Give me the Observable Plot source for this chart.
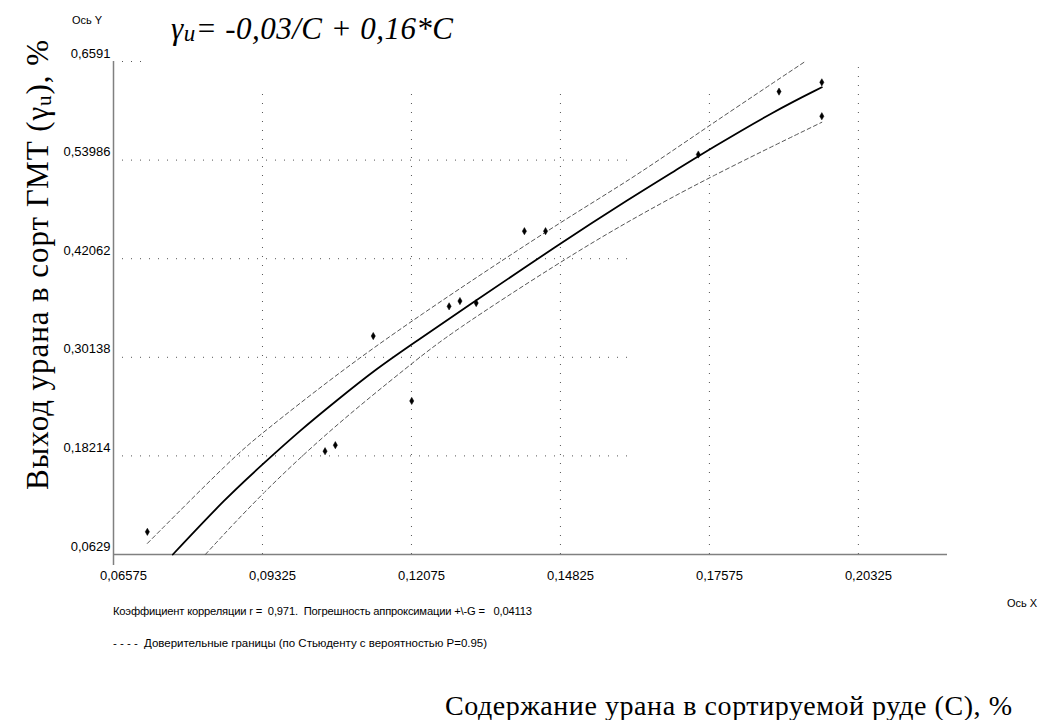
<!DOCTYPE html>
<html><head><meta charset="utf-8">
<script src="https://cdn.jsdelivr.net/npm/d3@7"></script>
<script src="https://cdn.jsdelivr.net/npm/@observablehq/plot@0.6"></script>
<style>body{margin:0;background:#fff} svg{display:block}</style>
</head><body><div id="chart"></div>
<script>
// Tick values
const xTicks = [0.06575, 0.09325, 0.12075, 0.14825, 0.17575, 0.20325];
const yTicks = [0.0629, 0.18214, 0.30138, 0.42062, 0.53986, 0.6591];

// Observed points
const pointC = [0.0720, 0.1048, 0.1067, 0.1137, 0.1208, 0.1277, 0.1297, 0.1327, 0.1416, 0.1455, 0.1737, 0.1886, 0.1965, 0.1965];
const pointY = [0.0903, 0.1878, 0.1951, 0.3271, 0.2486, 0.3630, 0.3694, 0.3670, 0.4539, 0.4539, 0.5466, 0.6227, 0.6339, 0.5929];

// Fitted curve
const fitC = [0.0767, 0.0867, 0.0931, 0.1002, 0.1070, 0.1143, 0.1217, 0.1297, 0.1481, 0.1610, 0.1699, 0.1758, 0.1880, 0.1965];
const fitY = [0.0629, 0.1326, 0.1709, 0.2130, 0.2494, 0.2877, 0.3210, 0.3570, 0.4387, 0.4931, 0.5290, 0.5530, 0.6000, 0.6279];

// Confidence bounds
const upperC = [0.0720, 0.0879, 0.0931, 0.1063, 0.1208, 0.1481, 0.1610, 0.1757, 0.1932];
const upperY = [0.0763, 0.1809, 0.2092, 0.2776, 0.3461, 0.4648, 0.5152, 0.5817, 0.6581];
const lowerC = [0.0827, 0.0931, 0.1063, 0.1208, 0.1278, 0.1481, 0.1610, 0.1757, 0.1965];
const lowerY = [0.0629, 0.1367, 0.2172, 0.2938, 0.3300, 0.4165, 0.4669, 0.5192, 0.5856];

// Grid extents (as drawn in the original)
const hGrid = [0.18214, 0.30138, 0.42062, 0.53986, 0.6591];
const hGridEnd = [0.1619, 0.1619, 0.1619, 0.1619, 0.0722];
const vGrid = [0.09325, 0.12075, 0.14825, 0.17575, 0.20325];
const vGridTop = [0.6203, 0.6203, 0.6203, 0.6203, 0.6591];

const fmt = d => String(d).replace(".", ",");
const zip = (a, b) => a.map((v, i) => ({c: v, y: b[i]}));

const chart = Plot.plot({
  width: 1038, height: 720,
  marginLeft: 113, marginRight: 91, marginTop: 61, marginBottom: 166,
  style: {fontFamily: "'Liberation Sans', Arial, sans-serif", fontSize: "13px", background: "#fff", color: "#000"},
  x: {domain: [0.06575, 0.2197]},
  y: {domain: [0.0629, 0.6591]},
  marks: [
    Plot.ruleY(hGrid, {y: d => d, x1: 0.06575, x2: (d, i) => hGridEnd[i], stroke: "#555", strokeDasharray: "1,8"}),
    Plot.ruleX(vGrid, {x: d => d, y1: 0.0629, y2: (d, i) => vGridTop[i], stroke: "#555", strokeDasharray: "1,8"}),
    Plot.ruleY([0.0629], {x1: 0.06575, x2: 0.2197, stroke: "#808080", strokeWidth: 1.5}),
    Plot.ruleX([0.06575], {y1: 0.6591, y2: 0.0495, stroke: "#808080", strokeWidth: 1.5, clip: false}),
    Plot.axisX(xTicks, {tickSize: 0, tickPadding: 16, dx: 10, tickFormat: fmt, label: null, fontSize: 13}),
    Plot.axisY(yTicks, {tickSize: 0, tickPadding: 3, dy: -8, tickFormat: fmt, label: null, fontSize: 13}),
    Plot.line(zip(upperC, upperY), {x: "c", y: "y", stroke: "#555", strokeWidth: 1, strokeDasharray: "4,3", curve: "basis"}),
    Plot.line(zip(lowerC, lowerY), {x: "c", y: "y", stroke: "#555", strokeWidth: 1, strokeDasharray: "4,3", curve: "basis"}),
    Plot.line(zip(fitC, fitY), {x: "c", y: "y", stroke: "#000", strokeWidth: 1.8, curve: "basis"}),
    Plot.dot(zip(pointC, pointY), {x: "c", y: "y", symbol: "diamond", r: 2.2, fill: "#000", stroke: "#000", strokeWidth: 0.5})
  ]
});
document.getElementById("chart").appendChild(chart);

const svg = d3.select(chart);
const sans = "'Liberation Sans', Arial, sans-serif";
const serif = "'Liberation Serif', 'Times New Roman', serif";
const txt = (x, y, family, size) => svg.append("text").attr("x", x).attr("y", y)
  .attr("text-anchor", "start").attr("font-family", family).attr("font-size", size).attr("fill", "#000");

txt(72, 24, sans, 11).text("Ось Y");
txt(1007, 607, sans, 11).text("Ось X");

// Formula title
const t = txt(171, 39, serif, 31).attr("font-style", "italic").attr("textLength", 282).attr("lengthAdjust", "spacing");
t.append("tspan").text("γ");
t.append("tspan").attr("font-size", 23).attr("dy", 2).text("u");
t.append("tspan").attr("dy", -2).text("= -0,03/C + 0,16*C");

// Stats text
txt(113, 615, sans, 11.2).attr("xml:space", "preserve").style("white-space", "pre")
  .attr("textLength", 419).attr("lengthAdjust", "spacing")
  .text("Коэффициент корреляции r =  0,971.  Погрешность аппроксимации +\\-G =   0,04113");
txt(113, 647, sans, 11.5).attr("xml:space", "preserve").style("white-space", "pre")
  .attr("textLength", 374).attr("lengthAdjust", "spacing")
  .text("- - - -  Доверительные границы (по Стьюденту с вероятностью P=0.95)");

// Axis titles
txt(445, 715, serif, 28).attr("textLength", 567).attr("lengthAdjust", "spacing")
  .text("Содержание урана в сортируемой руде (С), %");
const yl = svg.append("text").attr("transform", "translate(48,490) rotate(-90)").attr("text-anchor", "start")
  .attr("font-family", serif).attr("font-size", 31).attr("fill", "#000")
  .attr("textLength", 450).attr("lengthAdjust", "spacing");
yl.append("tspan").text("Выход урана в сорт ГМТ (γ");
yl.append("tspan").attr("font-size", 21).attr("dy", 3).text("u");
yl.append("tspan").attr("dy", -3).text("), %");
</script>
</body></html>
